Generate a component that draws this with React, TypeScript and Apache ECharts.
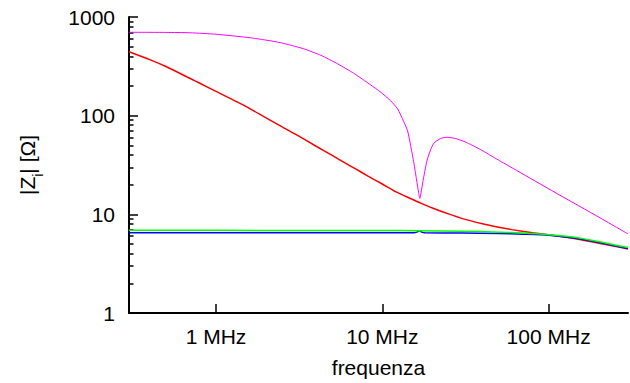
import React, { useEffect, useRef } from "react";
import * as echarts from "echarts";

// frequencies in MHz, impedance magnitudes in ohm
const magentaF = [0.3, 0.5, 0.7, 1, 1.6, 2, 2.45, 3.37, 4.27, 5.39, 6.73, 8.51, 9.78, 11.2, 12.36, 13.42, 14.19, 14.79, 15.49, 16.07, 16.51, 16.81, 17.2, 17.7, 18.6, 19.5, 20.4, 22.4, 24.5, 27.5, 31.6, 38.9, 49.9, 61.4, 98, 190, 300];
const magentaZ = [700, 698, 692, 669, 617, 583, 549, 476, 409, 335, 269, 205, 173, 142, 117, 88, 70, 50, 33, 22.3, 16.8, 14.5, 17.6, 23.4, 35.5, 44.9, 52.5, 58.7, 60.4, 58.7, 54.1, 45.4, 35.5, 29.1, 18.5, 9.85, 6.33];

const redF = [0.3, 0.4, 0.5, 0.7, 0.8, 1, 1.5, 2, 2.5, 3, 4, 5, 6, 7, 8, 10, 12, 15, 17, 20, 25, 30, 40, 50, 60, 80, 100, 150, 200, 250, 300];
const redZ = [445, 370, 315, 238, 213, 176, 125, 95, 77, 65, 49, 39.5, 33, 28.5, 25, 20.3, 17, 14.3, 13, 11.6, 10.1, 9.1, 8.02, 7.4, 7, 6.5, 6.2, 5.6, 5.1, 4.75, 4.45];

const blueF = [0.3, 1, 10, 15.5, 16.3, 16.8, 17.3, 18, 30, 50, 70, 100, 150, 200, 250, 300];
const blueZ = [6.5, 6.5, 6.5, 6.5, 6.65, 6.8, 6.6, 6.5, 6.45, 6.4, 6.3, 6.15, 5.7, 5.2, 4.8, 4.5];

const greenF = [0.3, 1, 10, 16, 30, 50, 70, 100, 150, 200, 250, 300];
const greenZ = [6.9, 6.88, 6.85, 6.83, 6.75, 6.6, 6.45, 6.2, 5.8, 5.3, 4.9, 4.6];

const xTicks = [1, 10, 100];
const yTicks = [1, 10, 100, 1000];
const yMinorTicks = [2, 3, 4, 5, 6, 7, 8, 9, 20, 30, 40, 50, 60, 70, 80, 90, 200, 300, 400, 500, 600, 700, 800, 900];

const FONT = "Liberation Sans, Arial, Helvetica, sans-serif";
const FS = 21;

const pairs = (f: number[], z: number[]) => f.map((v, i) => [v, z[i]]);

export default function App() {
  const ref = useRef<HTMLDivElement>(null);
  useEffect(() => {
    if (!ref.current) return;
    const chart = echarts.init(ref.current, undefined, { renderer: "svg" });
    const line = (name: string, f: number[], z: number[], color: string, width: number) => ({
      name,
      type: "line",
      data: pairs(f, z),
      showSymbol: false,
      symbol: "none",
      smooth: 0.2,
      lineStyle: { color, width },
      xAxisIndex: 0,
      yAxisIndex: 0,
    });
    chart.setOption({
      animation: false,
      backgroundColor: "#ffffff",
      grid: { left: 129, right: 2, top: 17, bottom: 70, containLabel: false },
      xAxis: {
        type: "log",
        logBase: 10,
        min: 0.3,
        max: 300,
        name: "frequenza",
        nameLocation: "middle",
        nameGap: 44,
        nameTextStyle: { fontSize: FS, fontFamily: FONT, color: "#000" },
        axisLine: { show: true, onZero: false, lineStyle: { color: "#000", width: 2 } },
        axisTick: { show: true, inside: true, length: 9, customValues: xTicks, lineStyle: { color: "#000", width: 1.5 } },
        axisLabel: {
          show: true,
          customValues: xTicks,
          margin: 13,
          fontSize: FS,
          fontFamily: FONT,
          color: "#000",
          formatter: (v: number) => `${v} MHz`,
        },
        splitLine: { show: false },
        minorTick: { show: false },
      },
      yAxis: [
        {
          type: "log",
          logBase: 10,
          min: 1,
          max: 1000,
          name: "{n||Z}{s|i}{n|| [Ω]}",
          nameLocation: "middle",
          nameGap: 90,
          nameRotate: 90,
          nameTextStyle: {
            fontSize: FS,
            fontFamily: FONT,
            color: "#000",
            rich: {
              n: { fontSize: FS, fontFamily: FONT, color: "#000", lineHeight: 24, verticalAlign: "middle" },
              s: { fontSize: 14, fontFamily: FONT, color: "#000", lineHeight: 14, verticalAlign: "top", padding: [16, 0, 0, 0] },
            },
          },
          axisLine: { show: true, onZero: false, lineStyle: { color: "#000", width: 2 } },
          axisTick: { show: true, inside: true, length: 9, customValues: yTicks, lineStyle: { color: "#000", width: 1.5 } },
          axisLabel: {
            show: true,
            customValues: yTicks,
            margin: 14,
            fontSize: FS,
            fontFamily: FONT,
            color: "#000",
            formatter: (v: number) => String(Math.round(v)),
          },
          splitLine: { show: false },
        },
        {
          type: "log",
          logBase: 10,
          min: 1,
          max: 1000,
          position: "left",
          axisLine: { show: false },
          axisTick: { show: true, inside: true, length: 4.5, customValues: yMinorTicks, lineStyle: { color: "#000", width: 1.5 } },
          axisLabel: { show: false },
          splitLine: { show: false },
        },
      ],
      series: [
        line("red", redF, redZ, "#ff0000", 1.5),
        line("magenta", magentaF, magentaZ, "#ff00ff", 1),
        line("blue", blueF, blueZ, "#0000ff", 1.5),
        line("green", greenF, greenZ, "#00ff00", 1.5),
      ],
    });
    return () => chart.dispose();
  }, []);
  return <div ref={ref} style={{ width: 630, height: 383, position: "absolute", left: 0, top: 0 }} />;
}
